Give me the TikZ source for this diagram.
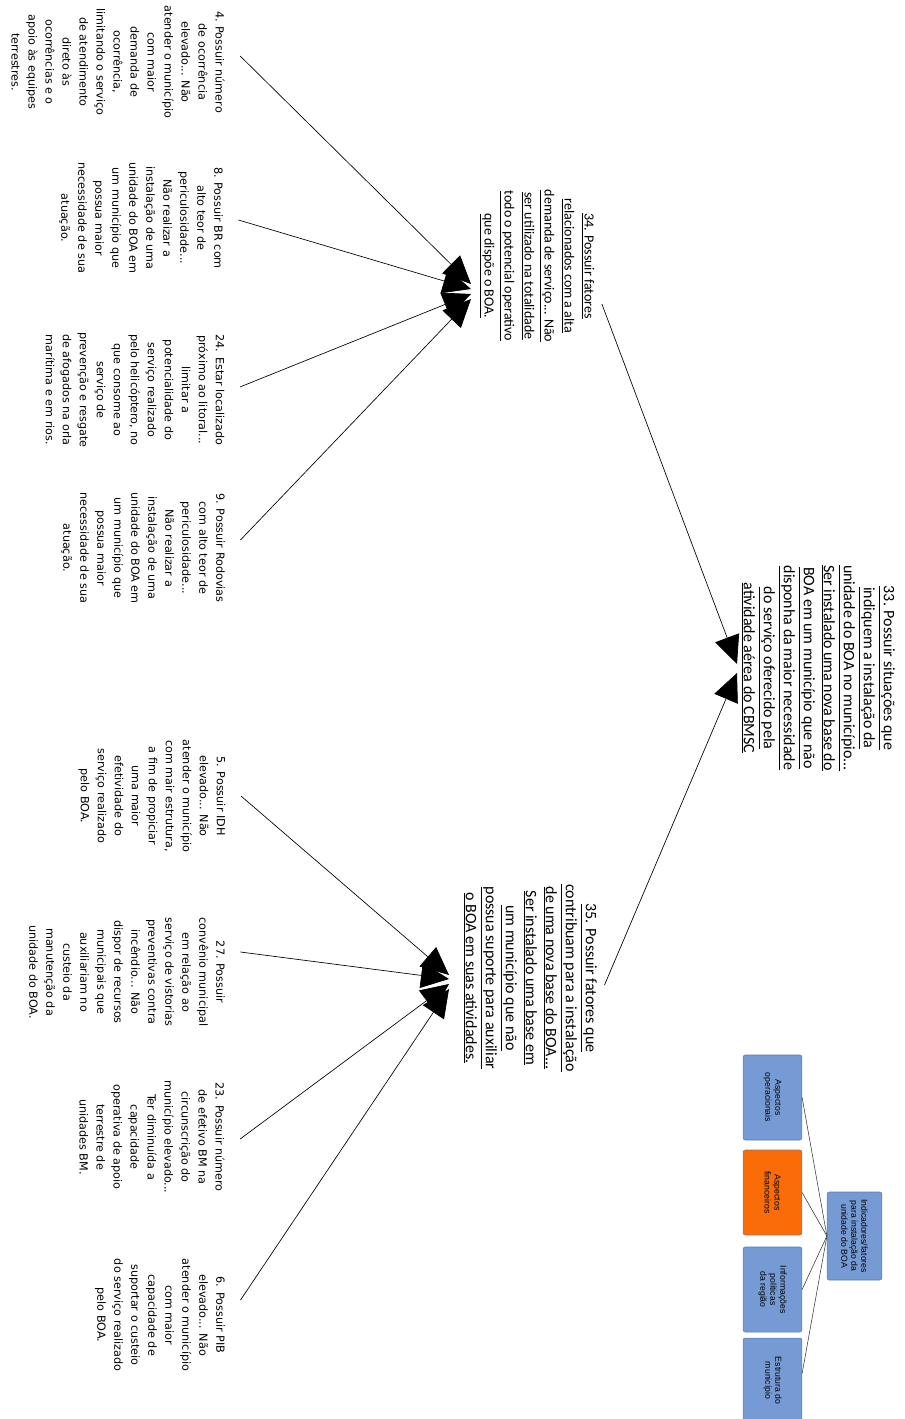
\documentclass[tikz,border=0pt]{standalone}
\usepackage{fontspec}
\setmainfont{DejaVu Sans}
\newfontfamily\calibf{Carlito}
\newfontfamily\smallf{Liberation Sans}
\usetikzlibrary{arrows.meta,calc}
\definecolor{boxblue}{RGB}{118,154,212}
\definecolor{boxedge}{RGB}{88,122,176}
\definecolor{boxorange}{RGB}{250,108,8}
\newcommand\ulx[1]{\underline{#1}}
\begin{document}
\begin{tikzpicture}[x=0.75pt,y=-0.75pt,
 leaf/.style={rotate=-90,align=center,font=\fontsize{8.4}{12.75}\selectfont,inner sep=1pt},
 mid/.style={rotate=-90,align=center,font=\calibf\fontsize{10.5}{15}\selectfont,inner sep=1pt},
 midbig/.style={mid,font=\calibf\fontsize{12}{15}\selectfont},
 cbox/.style={rotate=-90,draw=boxedge,fill=boxblue,rounded corners=1.5pt,align=center,
   minimum width=63.75pt,minimum height=44pt,font=\smallf\fontsize{6.5}{7.5}\selectfont,inner sep=1pt},
 link/.style={draw=black,line width=0.5pt},
 bigarrow/.style={link,-{Triangle[length=21pt,width=19pt]}},
 thinlink/.style={draw=black!80,line width=0.4pt},
]
\useasboundingbox (0,0) rectangle (904,1419);

% leaves, upper group
\node[leaf] (l4) at (118,62) {4. Possuir número\\de ocorrência\\elevado... Não\\atender o município\\com maior\\demanda de\\ocorrência,\\limitando o serviço\\de atendimento\\direto às\\ocorrências e o\\apoio às equipes\\terrestres.};
\node[leaf] (l8) at (141,218) {8. Possuir BR com\\alto teor de\\periculosidade...\\Não realizar a\\instalação de uma\\unidade do BOA em\\um município que\\possua maior\\necessidade de sua\\atuação.};
\node[leaf] (l24) at (135,390) {24. Estar localizado\\próximo ao litoral...\\limitar a\\potencialidade do\\serviço realizado\\pelo helicóptero, no\\que consome ao\\serviço de\\prevenção e resgate\\de afogados na orla\\marítima e em rios.};
\node[leaf] (l9) at (143,548) {9. Possuir Rodovias\\com alto teor de\\periculosidade...\\Não realizar a\\instalação de uma\\unidade do BOA em\\um município que\\possua maior\\necessidade de sua\\atuação.};

% leaves, lower group
\node[leaf] (l5) at (152,796) {5. Possuir IDH\\elevado... Não\\atender o município\\com mair estrutura,\\a fim de propiciar\\uma maior\\efetividade do\\serviço realizado\\pelo BOA.};
\node[leaf] (l27) at (127,972) {27. Possuir\\convênio municipal\\em relação ao\\serviço de vistorias\\preventivas contra\\incêndio... Não\\dispor de recursos\\municipais que\\auxiliariam no\\custeio da\\manutenção da\\unidade do BOA.};
\node[leaf] (l23) at (152,1137) {23. Possuir número\\de efetivo BM na\\circunscrição do\\município elevado...\\Ter diminuída a\\capacidade\\operativa de apoio\\terrestre de\\unidades BM.};
\node[leaf] (l6) at (160,1315) {6. Possuir PIB\\elevado... Não\\atender o município\\com maior\\capacidade de\\suportar o custeio\\do serviço realizado\\pelo BOA.};

% middle nodes
\node[mid] (n34) at (537,266) {\ulx{34. Possuir fatores}\\\ulx{relacionados com a alta}\\\ulx{demanda de serviço... Não}\\\ulx{ser utilizado na totalidade}\\\ulx{todo o potencial operativo}\\\ulx{que dispõe o BOA.}};
\node[midbig] (n35) at (530,978) {\ulx{35. Possuir fatores que}\\\ulx{contribuam para a instalação}\\\ulx{de uma nova base do BOA...}\\\ulx{Ser instalado uma base em}\\\ulx{um município que não}\\\ulx{possua suporte para auxiliar}\\\ulx{o BOA em suas atividades.}};
\node[midbig] (n33) at (818,668) {\ulx{33. Possuir situações que}\\\ulx{indiquem a instalação da}\\\ulx{unidade do BOA no município...}\\\ulx{Ser instalado uma nova base do}\\\ulx{BOA em um município que não}\\\ulx{disponha da maior necessidade}\\\ulx{do serviço oferecido pela}\\\ulx{atividade aérea do CBMSC}};

% arrow tips
\coordinate (ta1) at (471,284);
\coordinate (ta2) at (471,289);
\coordinate (ta3) at (471,294);
\coordinate (ta4) at (471,299);
\coordinate (tb1) at (449,975);
\coordinate (tb2) at (449,979);
\coordinate (tb3) at (449,984);
\coordinate (tb4) at (449,989);
\coordinate (tc1) at (737,664);
\coordinate (tc2) at (737,673);

\draw[bigarrow] ($(l4.north)+(14,-6)$) -- (ta1);
\draw[bigarrow] ($(l8.north)+(14,2)$) -- (ta2);
\draw[bigarrow] ($(l24.north)+(14,-3)$) -- (ta3);
\draw[bigarrow] ($(l9.north)+(14,-8)$) -- (ta4);
\draw[bigarrow] ($(l5.north)+(14,0)$) -- (tb1);
\draw[bigarrow] ($(l27.north)+(14,-20)$) -- (tb2);
\draw[bigarrow] ($(l23.north)+(14,2)$) -- (tb3);
\draw[bigarrow] ($(l6.north)+(14,-15)$) -- (tb4);
\draw[bigarrow] ($(n34.north)+(6,38)$) -- (tc1);
\draw[bigarrow] ($(n35.north)+(6,7)$) -- (tc2);

% legend boxes
\node[cbox,minimum width=66pt,minimum height=41pt] (bc) at (854.5,1236) {Indicadores/fatores\\para instalação da\\unidade do BOA};
\node[cbox] (ba) at (772.5,1097.5) {Aspectos\\operacionais};
\node[cbox,fill=boxorange,draw=boxedge!70!boxorange] (bb) at (772.5,1192.5) {Aspectos\\financeiros};
\node[cbox] (bcc) at (772.5,1289.5) {Informações\\políticas\\da região};
\node[cbox] (bd) at (772.5,1380.5) {Estrutura do\\município};
\draw[thinlink] (ba.north) -- (bc.south);
\draw[thinlink] (bb.north) -- (bc.south);
\draw[thinlink] (bcc.north) -- (bc.south);
\draw[thinlink] ($(bd.north)+(0,-7)$) -- (bc.south);
\end{tikzpicture}
\end{document}
